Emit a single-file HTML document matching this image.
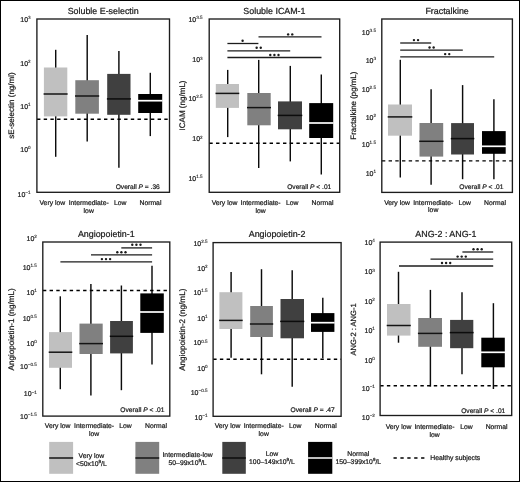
<!DOCTYPE html><html><head><meta charset="utf-8"><style>html,body{margin:0;padding:0;background:#fff;}svg{display:block;filter:grayscale(1);}text{font-family:"Liberation Sans",sans-serif;text-rendering:geometricPrecision;stroke:#1a1a1a;stroke-width:0.22px;fill:#1a1a1a;}</style></head><body>
<svg width="520" height="482" viewBox="0 0 520 482">
<rect x="0" y="0" width="520" height="482" fill="#fff"/>
<rect x="0.5" y="0.5" width="519" height="481" fill="none" stroke="#000" stroke-width="1"/>
<text x="103.2" y="13.8" font-size="8.9" text-anchor="middle">Soluble E-selectin</text>
<line x1="55.7" y1="49.8" x2="55.7" y2="156.8" stroke="#0c0c0c" stroke-width="1.45"/>
<rect x="43.9" y="67.5" width="23.4" height="48.9" fill="#c0c0c0"/>
<line x1="43.6" y1="94" x2="67.6" y2="94" stroke="#141414" stroke-width="1.5"/>
<line x1="87.2" y1="34.9" x2="87.2" y2="141.6" stroke="#0c0c0c" stroke-width="1.45"/>
<rect x="75.3" y="80.2" width="23.6" height="33.5" fill="#808080"/>
<line x1="75" y1="96" x2="99.2" y2="96" stroke="#141414" stroke-width="1.5"/>
<line x1="118.9" y1="50.9" x2="118.9" y2="167.8" stroke="#0c0c0c" stroke-width="1.45"/>
<rect x="107.2" y="73.9" width="23.3" height="40.9" fill="#404040"/>
<line x1="106.9" y1="98.9" x2="130.8" y2="98.9" stroke="#0c0c0c" stroke-width="1.5"/>
<line x1="150.3" y1="72.8" x2="150.3" y2="136.1" stroke="#0c0c0c" stroke-width="1.45"/>
<rect x="138.2" y="94" width="24" height="19" fill="#000000"/>
<line x1="137.9" y1="100.7" x2="162.5" y2="100.7" stroke="#ffffff" stroke-width="1.7"/>
<line x1="37" y1="119.3" x2="169.5" y2="119.3" stroke="#000" stroke-width="1.4" stroke-dasharray="3.4 3.3"/>
<rect x="36.9" y="19" width="132.6" height="173.3" fill="none" stroke="#1c1c1c" stroke-width="1.35"/>
<text x="159.8" y="188.9" font-size="6.65" text-anchor="end">Overall <tspan font-style="italic">P</tspan> = .36</text>
<text transform="translate(14.3,105.5) rotate(-90)" font-size="8" text-anchor="middle">sE-selectin (ng/ml)</text>
<text x="30.6" y="22" font-size="7.0" text-anchor="end">10<tspan font-size="4.6" dy="-2.8" style="stroke-width:0.1px">3</tspan></text>
<text x="30.6" y="65.5" font-size="7.0" text-anchor="end">10<tspan font-size="4.6" dy="-2.8" style="stroke-width:0.1px">2</tspan></text>
<text x="30.6" y="109" font-size="7.0" text-anchor="end">10<tspan font-size="4.6" dy="-2.8" style="stroke-width:0.1px">1</tspan></text>
<text x="30.6" y="152" font-size="7.0" text-anchor="end">10<tspan font-size="4.6" dy="-2.8" style="stroke-width:0.1px">0</tspan></text>
<text x="30.6" y="197" font-size="7.0" text-anchor="end">10<tspan font-size="4.6" dy="-2.8" style="stroke-width:0.1px">−1</tspan></text>
<text x="52.3" y="204.7" font-size="6.8" text-anchor="middle">Very low</text>
<text x="88.7" y="204.7" font-size="6.8" text-anchor="middle">Intermediate-</text>
<text x="88.7" y="212.5" font-size="6.8" text-anchor="middle">low</text>
<text x="120.15" y="204.7" font-size="6.8" text-anchor="middle">Low</text>
<text x="150.45" y="204.7" font-size="6.8" text-anchor="middle">Normal</text>
<text x="274.45" y="13.8" font-size="8.9" text-anchor="middle">Soluble ICAM-1</text>
<line x1="227.7" y1="69.9" x2="227.7" y2="137.1" stroke="#0c0c0c" stroke-width="1.45"/>
<rect x="215.8" y="84" width="23.2" height="23.9" fill="#c0c0c0"/>
<line x1="215.5" y1="93.4" x2="239.3" y2="93.4" stroke="#141414" stroke-width="1.5"/>
<line x1="258.7" y1="59.9" x2="258.7" y2="168" stroke="#0c0c0c" stroke-width="1.45"/>
<rect x="247.3" y="93" width="23.4" height="32.3" fill="#808080"/>
<line x1="247" y1="107.6" x2="271" y2="107.6" stroke="#141414" stroke-width="1.5"/>
<line x1="290.3" y1="65.9" x2="290.3" y2="161.4" stroke="#0c0c0c" stroke-width="1.45"/>
<rect x="278" y="101.4" width="24" height="27.9" fill="#404040"/>
<line x1="277.7" y1="115.4" x2="302.3" y2="115.4" stroke="#0c0c0c" stroke-width="1.5"/>
<line x1="321.3" y1="74.5" x2="321.3" y2="174.5" stroke="#0c0c0c" stroke-width="1.45"/>
<rect x="309.2" y="103.1" width="24" height="34.9" fill="#000000"/>
<line x1="308.9" y1="123" x2="333.5" y2="123" stroke="#ffffff" stroke-width="1.7"/>
<line x1="209.3" y1="143.3" x2="339.7" y2="143.3" stroke="#000" stroke-width="1.4" stroke-dasharray="3.4 3.3"/>
<line x1="258.5" y1="36.8" x2="321.5" y2="36.8" stroke="#1c1c1c" stroke-width="1.3"/>
<circle cx="288.15" cy="34.4" r="1.2" fill="#1a1a1a"/>
<circle cx="292.25" cy="34.4" r="1.2" fill="#1a1a1a"/>
<line x1="227.4" y1="43.5" x2="258.4" y2="43.5" stroke="#1c1c1c" stroke-width="1.3"/>
<circle cx="242.6" cy="40.7" r="1.2" fill="#1a1a1a"/>
<line x1="227.4" y1="50.8" x2="290.2" y2="50.8" stroke="#1c1c1c" stroke-width="1.3"/>
<circle cx="256.65" cy="47.8" r="1.2" fill="#1a1a1a"/>
<circle cx="260.75" cy="47.8" r="1.2" fill="#1a1a1a"/>
<line x1="227.4" y1="57.5" x2="321.5" y2="57.5" stroke="#1c1c1c" stroke-width="1.3"/>
<circle cx="270.3" cy="55" r="1.2" fill="#1a1a1a"/>
<circle cx="274.4" cy="55" r="1.2" fill="#1a1a1a"/>
<circle cx="278.5" cy="55" r="1.2" fill="#1a1a1a"/>
<rect x="209.2" y="19" width="130.5" height="173.3" fill="none" stroke="#1c1c1c" stroke-width="1.35"/>
<text x="331.3" y="188.5" font-size="6.65" text-anchor="end">Overall <tspan font-style="italic">P</tspan> < .01</text>
<text transform="translate(184.5,105.5) rotate(-90)" font-size="8.05" text-anchor="middle">ICAM (ng/mL)</text>
<text x="202.6" y="21.5" font-size="7.0" text-anchor="end">10<tspan font-size="4.6" dy="-2.8" style="stroke-width:0.1px">3.5</tspan></text>
<text x="202.6" y="62.4" font-size="7.0" text-anchor="end">10<tspan font-size="4.6" dy="-2.8" style="stroke-width:0.1px">3</tspan></text>
<text x="202.6" y="100.9" font-size="7.0" text-anchor="end">10<tspan font-size="4.6" dy="-2.8" style="stroke-width:0.1px">2.5</tspan></text>
<text x="202.6" y="141.3" font-size="7.0" text-anchor="end">10<tspan font-size="4.6" dy="-2.8" style="stroke-width:0.1px">2</tspan></text>
<text x="202.6" y="180.6" font-size="7.0" text-anchor="end">10<tspan font-size="4.6" dy="-2.8" style="stroke-width:0.1px">1.5</tspan></text>
<text x="224.5" y="204.7" font-size="6.8" text-anchor="middle">Very low</text>
<text x="260.6" y="204.7" font-size="6.8" text-anchor="middle">Intermediate-</text>
<text x="260.6" y="212.5" font-size="6.8" text-anchor="middle">low</text>
<text x="292.3" y="204.7" font-size="6.8" text-anchor="middle">Low</text>
<text x="322.5" y="204.7" font-size="6.8" text-anchor="middle">Normal</text>
<text x="447.1" y="13.8" font-size="8.9" text-anchor="middle">Fractalkine</text>
<line x1="400.3" y1="59.8" x2="400.3" y2="177.5" stroke="#0c0c0c" stroke-width="1.45"/>
<rect x="388" y="104.5" width="24" height="31.2" fill="#c0c0c0"/>
<line x1="387.7" y1="116.9" x2="412.3" y2="116.9" stroke="#141414" stroke-width="1.5"/>
<line x1="431.1" y1="89.2" x2="431.1" y2="184.7" stroke="#0c0c0c" stroke-width="1.45"/>
<rect x="419.5" y="123" width="23.7" height="33.6" fill="#808080"/>
<line x1="419.2" y1="141.3" x2="443.5" y2="141.3" stroke="#141414" stroke-width="1.5"/>
<line x1="462.6" y1="85.1" x2="462.6" y2="179.2" stroke="#0c0c0c" stroke-width="1.45"/>
<rect x="451.1" y="123.1" width="22.9" height="31.4" fill="#404040"/>
<line x1="450.8" y1="138.6" x2="474.3" y2="138.6" stroke="#0c0c0c" stroke-width="1.5"/>
<line x1="493.9" y1="99.2" x2="493.9" y2="179.2" stroke="#0c0c0c" stroke-width="1.45"/>
<rect x="482" y="131.1" width="23.7" height="22.7" fill="#000000"/>
<line x1="481.7" y1="146.3" x2="506" y2="146.3" stroke="#ffffff" stroke-width="1.7"/>
<line x1="381.9" y1="160.9" x2="512.4" y2="160.9" stroke="#000" stroke-width="1.4" stroke-dasharray="3.4 3.3"/>
<line x1="400.2" y1="43" x2="431.2" y2="43" stroke="#1c1c1c" stroke-width="1.3"/>
<circle cx="413.95" cy="40.1" r="1.2" fill="#1a1a1a"/>
<circle cx="418.05" cy="40.1" r="1.2" fill="#1a1a1a"/>
<line x1="400.2" y1="50.2" x2="462.8" y2="50.2" stroke="#1c1c1c" stroke-width="1.3"/>
<circle cx="429.55" cy="47.5" r="1.2" fill="#1a1a1a"/>
<circle cx="433.65" cy="47.5" r="1.2" fill="#1a1a1a"/>
<line x1="400.2" y1="56.9" x2="494.2" y2="56.9" stroke="#1c1c1c" stroke-width="1.3"/>
<circle cx="445.15" cy="54.1" r="1.2" fill="#1a1a1a"/>
<circle cx="449.25" cy="54.1" r="1.2" fill="#1a1a1a"/>
<rect x="381.8" y="19" width="130.6" height="173.4" fill="none" stroke="#1c1c1c" stroke-width="1.35"/>
<text x="503.5" y="188.8" font-size="6.65" text-anchor="end">Overall <tspan font-style="italic">P</tspan> < .01</text>
<text transform="translate(355.5,105.65) rotate(-90)" font-size="7.9" text-anchor="middle">Fractalkine (pg/mL)</text>
<text x="376" y="34.9" font-size="7.0" text-anchor="end">10<tspan font-size="4.6" dy="-2.8" style="stroke-width:0.1px">3.5</tspan></text>
<text x="376" y="63.1" font-size="7.0" text-anchor="end">10<tspan font-size="4.6" dy="-2.8" style="stroke-width:0.1px">3</tspan></text>
<text x="376" y="91.5" font-size="7.0" text-anchor="end">10<tspan font-size="4.6" dy="-2.8" style="stroke-width:0.1px">2.5</tspan></text>
<text x="376" y="119.8" font-size="7.0" text-anchor="end">10<tspan font-size="4.6" dy="-2.8" style="stroke-width:0.1px">2</tspan></text>
<text x="376" y="147" font-size="7.0" text-anchor="end">10<tspan font-size="4.6" dy="-2.8" style="stroke-width:0.1px">1.5</tspan></text>
<text x="376" y="175.6" font-size="7.0" text-anchor="end">10<tspan font-size="4.6" dy="-2.8" style="stroke-width:0.1px">1</tspan></text>
<text x="397" y="204.5" font-size="6.8" text-anchor="middle">Very low</text>
<text x="433.2" y="204.5" font-size="6.8" text-anchor="middle">Intermediate-</text>
<text x="433.2" y="212.3" font-size="6.8" text-anchor="middle">low</text>
<text x="464.8" y="204.5" font-size="6.8" text-anchor="middle">Low</text>
<text x="495" y="204.5" font-size="6.8" text-anchor="middle">Normal</text>
<text x="106.3" y="236.8" font-size="8.9" text-anchor="middle">Angiopoietin-1</text>
<line x1="60.3" y1="296.3" x2="60.3" y2="389.2" stroke="#0c0c0c" stroke-width="1.45"/>
<rect x="49" y="332.1" width="23" height="35.7" fill="#c0c0c0"/>
<line x1="48.7" y1="352.2" x2="72.3" y2="352.2" stroke="#141414" stroke-width="1.5"/>
<line x1="90.9" y1="284" x2="90.9" y2="395.5" stroke="#0c0c0c" stroke-width="1.45"/>
<rect x="79.5" y="323.6" width="23.2" height="30.4" fill="#808080"/>
<line x1="79.2" y1="343.6" x2="103" y2="343.6" stroke="#141414" stroke-width="1.5"/>
<line x1="121.4" y1="285.5" x2="121.4" y2="390.2" stroke="#0c0c0c" stroke-width="1.45"/>
<rect x="110.1" y="321" width="22.8" height="32.4" fill="#404040"/>
<line x1="109.8" y1="336.3" x2="133.2" y2="336.3" stroke="#0c0c0c" stroke-width="1.5"/>
<line x1="152" y1="265.8" x2="152" y2="364.6" stroke="#0c0c0c" stroke-width="1.45"/>
<rect x="140.3" y="293.4" width="23.5" height="39.5" fill="#000000"/>
<line x1="140" y1="312" x2="164.1" y2="312" stroke="#ffffff" stroke-width="1.7"/>
<line x1="42.9" y1="290.5" x2="169.8" y2="290.5" stroke="#000" stroke-width="1.4" stroke-dasharray="3.4 3.3"/>
<line x1="121.3" y1="247.9" x2="152.1" y2="247.9" stroke="#1c1c1c" stroke-width="1.3"/>
<circle cx="132.3" cy="244.8" r="1.2" fill="#1a1a1a"/>
<circle cx="136.4" cy="244.8" r="1.2" fill="#1a1a1a"/>
<circle cx="140.5" cy="244.8" r="1.2" fill="#1a1a1a"/>
<line x1="91" y1="254.8" x2="152.1" y2="254.8" stroke="#1c1c1c" stroke-width="1.3"/>
<circle cx="117.3" cy="252.3" r="1.2" fill="#1a1a1a"/>
<circle cx="121.4" cy="252.3" r="1.2" fill="#1a1a1a"/>
<circle cx="125.5" cy="252.3" r="1.2" fill="#1a1a1a"/>
<line x1="60.4" y1="261.9" x2="152.1" y2="261.9" stroke="#1c1c1c" stroke-width="1.3"/>
<circle cx="101.9" cy="259.1" r="1.2" fill="#1a1a1a"/>
<circle cx="106" cy="259.1" r="1.2" fill="#1a1a1a"/>
<circle cx="110.1" cy="259.1" r="1.2" fill="#1a1a1a"/>
<rect x="42.8" y="242" width="127" height="174.1" fill="none" stroke="#1c1c1c" stroke-width="1.35"/>
<text x="164.5" y="412.2" font-size="6.65" text-anchor="end">Overall <tspan font-style="italic">P</tspan> < .01</text>
<text transform="translate(14,329.45) rotate(-90)" font-size="8.15" text-anchor="middle">Angiopoietin-1 (ng/mL)</text>
<text x="36.9" y="241.2" font-size="7.0" text-anchor="end">10<tspan font-size="4.6" dy="-2.8" style="stroke-width:0.1px">2</tspan></text>
<text x="36.9" y="269.5" font-size="7.0" text-anchor="end">10<tspan font-size="4.6" dy="-2.8" style="stroke-width:0.1px">1.5</tspan></text>
<text x="36.9" y="295.2" font-size="7.0" text-anchor="end">10<tspan font-size="4.6" dy="-2.8" style="stroke-width:0.1px">1</tspan></text>
<text x="36.9" y="320.7" font-size="7.0" text-anchor="end">10<tspan font-size="4.6" dy="-2.8" style="stroke-width:0.1px">0.5</tspan></text>
<text x="36.9" y="345.6" font-size="7.0" text-anchor="end">10<tspan font-size="4.6" dy="-2.8" style="stroke-width:0.1px">0</tspan></text>
<text x="36.9" y="369" font-size="7.0" text-anchor="end">10<tspan font-size="4.6" dy="-2.8" style="stroke-width:0.1px">−0.5</tspan></text>
<text x="36.9" y="396.3" font-size="7.0" text-anchor="end">10<tspan font-size="4.6" dy="-2.8" style="stroke-width:0.1px">−1</tspan></text>
<text x="36.9" y="418.7" font-size="7.0" text-anchor="end">10<tspan font-size="4.6" dy="-2.8" style="stroke-width:0.1px">−1.5</tspan></text>
<text x="57.7" y="427.7" font-size="6.8" text-anchor="middle">Very low</text>
<text x="94.1" y="427.7" font-size="6.8" text-anchor="middle">Intermediate-</text>
<text x="94.1" y="435.5" font-size="6.8" text-anchor="middle">low</text>
<text x="125.5" y="427.7" font-size="6.8" text-anchor="middle">Low</text>
<text x="156" y="427.7" font-size="6.8" text-anchor="middle">Normal</text>
<text x="277.1" y="237.4" font-size="8.9" text-anchor="middle">Angiopoietin-2</text>
<line x1="231.1" y1="272" x2="231.1" y2="357.7" stroke="#0c0c0c" stroke-width="1.45"/>
<rect x="219.4" y="292.2" width="23" height="36.8" fill="#c0c0c0"/>
<line x1="219.1" y1="320.4" x2="242.7" y2="320.4" stroke="#141414" stroke-width="1.5"/>
<line x1="261.5" y1="269.2" x2="261.5" y2="374.3" stroke="#0c0c0c" stroke-width="1.45"/>
<rect x="250.2" y="306" width="22.7" height="31" fill="#808080"/>
<line x1="249.9" y1="324" x2="273.2" y2="324" stroke="#141414" stroke-width="1.5"/>
<line x1="292.2" y1="270.2" x2="292.2" y2="386.7" stroke="#0c0c0c" stroke-width="1.45"/>
<rect x="280.5" y="299" width="23.5" height="39.3" fill="#404040"/>
<line x1="280.2" y1="321.4" x2="304.3" y2="321.4" stroke="#0c0c0c" stroke-width="1.5"/>
<line x1="322.8" y1="297.8" x2="322.8" y2="358.3" stroke="#0c0c0c" stroke-width="1.45"/>
<rect x="311" y="313.1" width="23.4" height="18.8" fill="#000000"/>
<line x1="310.7" y1="322.7" x2="334.7" y2="322.7" stroke="#ffffff" stroke-width="1.7"/>
<line x1="213.2" y1="359.2" x2="341.1" y2="359.2" stroke="#000" stroke-width="1.4" stroke-dasharray="3.4 3.3"/>
<rect x="213.1" y="242.6" width="128" height="173.7" fill="none" stroke="#1c1c1c" stroke-width="1.35"/>
<text x="334.7" y="411.6" font-size="6.65" text-anchor="end">Overall <tspan font-style="italic">P</tspan> = .47</text>
<text transform="translate(185.2,329.75) rotate(-90)" font-size="8.15" text-anchor="middle">Angiopoietin-2 (ng/mL)</text>
<text x="207.6" y="245.7" font-size="7.0" text-anchor="end">10<tspan font-size="4.6" dy="-2.8" style="stroke-width:0.1px">2.5</tspan></text>
<text x="207.6" y="270.6" font-size="7.0" text-anchor="end">10<tspan font-size="4.6" dy="-2.8" style="stroke-width:0.1px">2</tspan></text>
<text x="207.6" y="295" font-size="7.0" text-anchor="end">10<tspan font-size="4.6" dy="-2.8" style="stroke-width:0.1px">1.5</tspan></text>
<text x="207.6" y="320.7" font-size="7.0" text-anchor="end">10<tspan font-size="4.6" dy="-2.8" style="stroke-width:0.1px">1</tspan></text>
<text x="207.6" y="345.3" font-size="7.0" text-anchor="end">10<tspan font-size="4.6" dy="-2.8" style="stroke-width:0.1px">0.5</tspan></text>
<text x="207.6" y="370.5" font-size="7.0" text-anchor="end">10<tspan font-size="4.6" dy="-2.8" style="stroke-width:0.1px">0</tspan></text>
<text x="207.6" y="395.2" font-size="7.0" text-anchor="end">10<tspan font-size="4.6" dy="-2.8" style="stroke-width:0.1px">−0.5</tspan></text>
<text x="207.6" y="419.9" font-size="7.0" text-anchor="end">10<tspan font-size="4.6" dy="-2.8" style="stroke-width:0.1px">−1</tspan></text>
<text x="227.5" y="427.8" font-size="6.8" text-anchor="middle">Very low</text>
<text x="263.7" y="427.8" font-size="6.8" text-anchor="middle">Intermediate-</text>
<text x="263.7" y="435.6" font-size="6.8" text-anchor="middle">low</text>
<text x="295.3" y="427.8" font-size="6.8" text-anchor="middle">Low</text>
<text x="325.8" y="427.8" font-size="6.8" text-anchor="middle">Normal</text>
<text x="445.9" y="236.9" font-size="8.9" text-anchor="middle">ANG-2 : ANG-1</text>
<line x1="398.5" y1="271.8" x2="398.5" y2="342.7" stroke="#0c0c0c" stroke-width="1.45"/>
<rect x="387" y="304" width="23.5" height="31.6" fill="#c0c0c0"/>
<line x1="386.7" y1="325.5" x2="410.8" y2="325.5" stroke="#141414" stroke-width="1.5"/>
<line x1="430.4" y1="289.9" x2="430.4" y2="386.6" stroke="#0c0c0c" stroke-width="1.45"/>
<rect x="418.2" y="318" width="23.8" height="28.8" fill="#808080"/>
<line x1="417.9" y1="333.4" x2="442.3" y2="333.4" stroke="#141414" stroke-width="1.5"/>
<line x1="462" y1="292.3" x2="462" y2="374.2" stroke="#0c0c0c" stroke-width="1.45"/>
<rect x="450.1" y="319.9" width="23.2" height="28.3" fill="#404040"/>
<line x1="449.8" y1="332.6" x2="473.6" y2="332.6" stroke="#0c0c0c" stroke-width="1.5"/>
<line x1="493.4" y1="303.2" x2="493.4" y2="389" stroke="#0c0c0c" stroke-width="1.45"/>
<rect x="481.3" y="337.7" width="23.5" height="29.6" fill="#000000"/>
<line x1="481" y1="352.3" x2="505.1" y2="352.3" stroke="#ffffff" stroke-width="1.7"/>
<line x1="380.2" y1="385.7" x2="511.7" y2="385.7" stroke="#000" stroke-width="1.4" stroke-dasharray="3.4 3.3"/>
<line x1="462.4" y1="252" x2="493.2" y2="252" stroke="#1c1c1c" stroke-width="1.3"/>
<circle cx="473.5" cy="249.2" r="1.2" fill="#1a1a1a"/>
<circle cx="477.6" cy="249.2" r="1.2" fill="#1a1a1a"/>
<circle cx="481.7" cy="249.2" r="1.2" fill="#1a1a1a"/>
<line x1="430.5" y1="259.1" x2="493.2" y2="259.1" stroke="#1c1c1c" stroke-width="1.3"/>
<circle cx="457.6" cy="256.6" r="1.2" fill="#1a1a1a"/>
<circle cx="461.7" cy="256.6" r="1.2" fill="#1a1a1a"/>
<circle cx="465.8" cy="256.6" r="1.2" fill="#1a1a1a"/>
<line x1="399" y1="266" x2="493.2" y2="266" stroke="#1c1c1c" stroke-width="1.3"/>
<circle cx="442" cy="263" r="1.2" fill="#1a1a1a"/>
<circle cx="446.1" cy="263" r="1.2" fill="#1a1a1a"/>
<circle cx="450.2" cy="263" r="1.2" fill="#1a1a1a"/>
<rect x="380.1" y="242.1" width="131.6" height="173.4" fill="none" stroke="#1c1c1c" stroke-width="1.35"/>
<text x="505.3" y="413.1" font-size="6.65" text-anchor="end">Overall <tspan font-style="italic">P</tspan> < .01</text>
<text transform="translate(356,329.45) rotate(-90)" font-size="7.6" text-anchor="middle">ANG-2 : ANG-1</text>
<text x="374.9" y="245.2" font-size="7.0" text-anchor="end">10<tspan font-size="4.6" dy="-2.8" style="stroke-width:0.1px">4</tspan></text>
<text x="374.9" y="274.3" font-size="7.0" text-anchor="end">10<tspan font-size="4.6" dy="-2.8" style="stroke-width:0.1px">3</tspan></text>
<text x="374.9" y="304.1" font-size="7.0" text-anchor="end">10<tspan font-size="4.6" dy="-2.8" style="stroke-width:0.1px">2</tspan></text>
<text x="374.9" y="332.8" font-size="7.0" text-anchor="end">10<tspan font-size="4.6" dy="-2.8" style="stroke-width:0.1px">1</tspan></text>
<text x="374.9" y="362.5" font-size="7.0" text-anchor="end">10<tspan font-size="4.6" dy="-2.8" style="stroke-width:0.1px">0</tspan></text>
<text x="374.9" y="391" font-size="7.0" text-anchor="end">10<tspan font-size="4.6" dy="-2.8" style="stroke-width:0.1px">−1</tspan></text>
<text x="374.9" y="419.7" font-size="7.0" text-anchor="end">10<tspan font-size="4.6" dy="-2.8" style="stroke-width:0.1px">−2</tspan></text>
<text x="398.5" y="429" font-size="6.8" text-anchor="middle">Very low</text>
<text x="434.5" y="429" font-size="6.8" text-anchor="middle">Intermediate-</text>
<text x="434.5" y="436.8" font-size="6.8" text-anchor="middle">low</text>
<text x="466.4" y="429" font-size="6.8" text-anchor="middle">Low</text>
<text x="496.6" y="429" font-size="6.8" text-anchor="middle">Normal</text>
<rect x="49.2" y="441.9" width="23.9" height="31.9" fill="#c0c0c0"/>
<line x1="49.2" y1="458" x2="73.1" y2="458" stroke="#141414" stroke-width="1.5"/>
<text x="91.4" y="457.8" font-size="6.8" text-anchor="middle">Very low</text>
<text x="91.4" y="465.8" font-size="6.8" text-anchor="middle"><50x10<tspan font-size="4.5" dy="-2.8">9</tspan><tspan dy="2.8">/L</tspan></text>
<rect x="135.4" y="441.9" width="23.8" height="31.9" fill="#808080"/>
<line x1="135.4" y1="458" x2="159.2" y2="458" stroke="#141414" stroke-width="1.5"/>
<text x="187.6" y="456.6" font-size="6.8" text-anchor="middle">Intermediate-low</text>
<text x="187.6" y="465" font-size="6.8" text-anchor="middle">50–99x10<tspan font-size="4.5" dy="-2.8">9</tspan><tspan dy="2.8">/L</tspan></text>
<rect x="222.3" y="441.9" width="23.5" height="31.9" fill="#404040"/>
<line x1="222.3" y1="458" x2="245.8" y2="458" stroke="#0c0c0c" stroke-width="1.5"/>
<text x="271.9" y="456.4" font-size="6.8" text-anchor="middle">Low</text>
<text x="271.9" y="463.6" font-size="6.8" text-anchor="middle">100–149x10<tspan font-size="4.5" dy="-2.8">9</tspan><tspan dy="2.8">/L</tspan></text>
<rect x="308.1" y="441.9" width="24.2" height="31.9" fill="#000000"/>
<line x1="308.1" y1="458" x2="332.3" y2="458" stroke="#ffffff" stroke-width="1.5"/>
<text x="358.3" y="456" font-size="6.8" text-anchor="middle">Normal</text>
<text x="358.3" y="463.6" font-size="6.8" text-anchor="middle">150–399x10<tspan font-size="4.5" dy="-2.8">9</tspan><tspan dy="2.8">/L</tspan></text>
<line x1="393.5" y1="458" x2="424.5" y2="458" stroke="#000" stroke-width="1.4" stroke-dasharray="3.3 3.6"/>
<text x="430.3" y="460.2" font-size="6.8">Healthy subjects</text>
</svg></body></html>
